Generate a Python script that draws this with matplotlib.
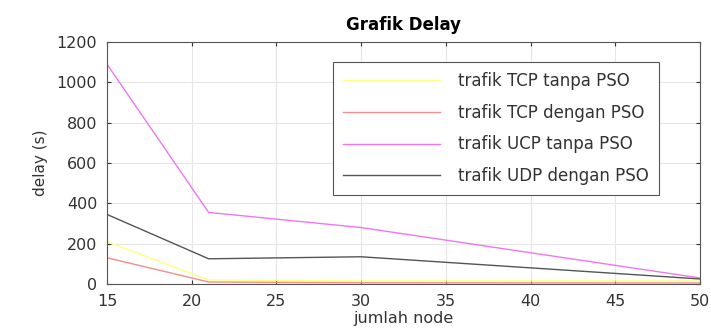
import numpy as np
import matplotlib.pyplot as plt

plt.rcParams['font.family'] = ['DejaVu Sans']

# jumlah node vs delay
node = [15, 21, 30, 50]
tcp_tanpa = [210, 20, 15, 15]
tcp_dengan = [130, 10, 6, 5]
udp_tanpa = [1090, 355, 280, 30]
udp_dengan = [345, 125, 135, 25]

labels = ['trafik TCP tanpa PSO', 'trafik TCP dengan PSO',
          'trafik UCP tanpa PSO', 'trafik UDP dengan PSO']
colors = ['#ffff80', '#ee9090', '#ee77ee', '#555555']

fig = plt.figure(figsize=(7.11, 3.31), dpi=100)
ax = fig.add_axes([0.1505, 0.142, 0.834, 0.731])

for y, lab, c in zip([tcp_tanpa, tcp_dengan, udp_tanpa, udp_dengan], labels, colors):
    ax.plot(node, y, color=c, linewidth=1.0, label=lab)

ax.set_xlim(15, 50)
ax.set_ylim(0, 1200)
ax.set_xticks(np.arange(15, 51, 5))
ax.set_yticks(np.arange(0, 1201, 200))
ax.grid(True, color='#e6e6e6', linewidth=0.8)
ax.tick_params(direction='in', top=True, right=True, labelsize=11.5,
               colors='#333333', length=3)
ax.tick_params(axis='x', pad=7)
ax.tick_params(axis='y', pad=7)
for s in ax.spines.values():
    s.set_color('#555555')
    s.set_linewidth(0.8)

ax.set_title('Grafik Delay', fontsize=12, fontweight='bold', pad=9)
ax.set_xlabel('jumlah node', fontsize=11.5, color='#333333', labelpad=2)
ax.set_ylabel('delay (s)', fontsize=11, color='#333333', labelpad=6)

leg = ax.legend(loc='upper left', bbox_to_anchor=(0.381, 0.917), fontsize=12,
                handlelength=5.8, labelspacing=0.82, borderpad=0.6,
                handletextpad=1.1, borderaxespad=0, fancybox=False,
                framealpha=1)
leg.get_frame().set_edgecolor('#555555')
leg.get_frame().set_linewidth(0.8)
for t in leg.get_texts():
    t.set_color('#333333')

plt.savefig('out.png', dpi=100)
